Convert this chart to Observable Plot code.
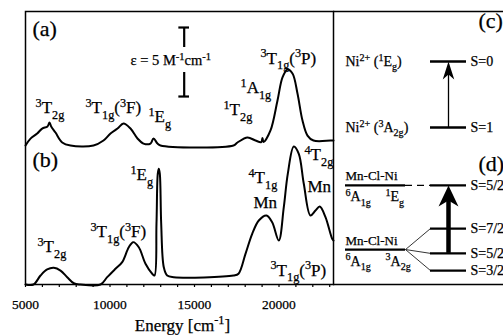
<!DOCTYPE html>
<html><head><meta charset="utf-8">
<script src="https://cdn.jsdelivr.net/npm/d3@7"></script>
<script src="https://cdn.jsdelivr.net/npm/@observablehq/plot@0.6"></script>
<style>
body{margin:0;background:#fff;}
#fig{position:relative;width:503px;height:335px;overflow:hidden;background:#fff;}
#fig svg{position:absolute;top:0;}
#fig svg text{font-family:"Liberation Serif","Times New Roman",serif !important;stroke:#000;stroke-width:0.25px;}
</style></head><body><div id="fig"></div>
<script>
// ---------- DATA ----------
// trace (a): epsilon (M^-1 cm^-1) vs energy (cm^-1)
const energyA = [5000, 5296, 5692, 5988, 6300, 6420, 6520, 6775, 7172, 7663, 9024, 9615, 10030, 10444, 10799, 11213, 11627, 11982, 12396, 12574, 12810, 12988, 17307, 17544, 18136, 18609, 18950, 19023, 19083, 19497, 19911, 20207, 20503, 20799, 21094, 21390, 21686, 22041, 23047, 23225];
const epsA = [0, 0.5, 0.87, 1.23, 1.38, 1.67, 1.38, 0.94, 0.22, 0, 0, 0.36, 0.87, 1.23, 1.59, 1.23, 0.51, 0.14, 0.14, 0.51, 0.14, 0, 0, 0.22, 0.58, 0.36, 0.25, 0.55, 0.25, 1.09, 3.26, 4.93, 5.51, 5.22, 3.77, 1.81, 0.72, 0.36, 0.36, 0.36];
const offsetA = 10.07;
// trace (b)
const energyB = [5000, 5473, 5888, 6284, 6675, 7071, 7467, 7858, 8254, 9438, 9834, 10325, 10722, 11112, 11373, 11704, 12100, 12497, 12633, 12751, 12828, 12887, 12947, 13029, 13183, 13384, 13775, 17307, 17603, 18017, 18414, 18805, 19260, 19597, 19988, 20284, 20520, 20875, 21171, 21467, 21863, 22159, 22413, 22751, 23147, 23225];
const absB = [0, 0, 0.65, 1.09, 1.21, 1.01, 0.53, 0.09, 0, 0, 0.53, 1.14, 1.62, 2.70, 3.07, 2.70, 1.50, 0.78, 0.65, 4.42, 8.04, 8.38, 8.04, 4.42, 1.25, 0.65, 0.53, 0.65, 0.78, 2.22, 3.67, 4.64, 5.0, 4.51, 3.19, 5.60, 8.02, 10.0, 9.47, 7.30, 5.0, 5.36, 5.65, 4.88, 3.31, 3.19];

const xTicks = d3.range(5000, 23001, 1000);
const xTickLabels = [5000, 10000, 15000, 20000];
const xLabel = "Energy [cm^{-1}]";

const annotA = [
  {label: "^3T_{2g}", energy: 5592, height: 12.39},
  {label: "^3T_{1g}(^3F)", energy: 8550, height: 12.39},
  {label: "^1E_g", energy: 12278, height: 11.74},
  {label: "^1T_{2g}", energy: 16716, height: 12.25},
  {label: "^1A_{1g}", energy: 17722, height: 13.84},
  {label: "^3T_{1g}(^3P)", energy: 18905, height: 16.01}
];
const annotB = [
  {label: "^3T_{2g}", energy: 5710, height: 2.32},
  {label: "^3T_{1g}(^3F)", energy: 8846, height: 3.41},
  {label: "^1E_g", energy: 11213, height: 7.54},
  {label: "^4T_{1g}", energy: 18195, height: 7.32},
  {label: "Mn", energy: 18491, height: 5.51},
  {label: "^4T_{2g}", energy: 21509, height: 8.99},
  {label: "Mn", energy: 21686, height: 6.67},
  {label: "^3T_{1g}(^3P)", energy: 19497, height: 0.65}
];
const panelTags = [
  {label: "(a)", energy: 5414, height: 18.04},
  {label: "(b)", energy: 5414, height: 8.48}
];
const scaleBar = {energy: 14390, bottom: 13.62, length: 5, label: "ε = 5 M^{-1}cm^{-1}", labelEnergy: 11213, labelHeight: 15.87};

// energy-level diagrams (arbitrary energy units)
const levelsC = [
  {state: "Ni^{2+} (^1E_g)", spin: "S=0", energy: 81.7},
  {state: "Ni^{2+} (^3A_{2g})", spin: "S=1", energy: 57.5}
];
const dExcited = {name: "Mn-Cl-Ni", term1: "^6A_{1g}", term2: "^1E_g", spin: "S=5/2", energy: 36.3};
const dGround = {name: "Mn-Cl-Ni", term1: "^6A_{1g}", term2: "^3A_{2g}", energy: 12.8};
const dSplit = [
  {spin: "S=7/2", energy: 20.5},
  {spin: "S=5/2", energy: 11.4},
  {spin: "S=3/2", energy: 5.1}
];
const diagramTags = [{label: "(c)", energy: 94.1}, {label: "(d)", energy: 41.5}];

// ---------- helpers ----------
const serif = "'Liberation Serif', 'Times New Roman', serif";
function richify(svg) {
  svg.querySelectorAll("text").forEach(t => {
    const s = t.textContent;
    if (!/[\^_]/.test(s)) return;
    const fs = parseFloat(getComputedStyle(t).fontSize);
    while (t.firstChild) t.removeChild(t.firstChild);
    const re = /([\^_])(\{[^}]*\}|.)|([^\^_]+)/g;
    let m, cur = 0;
    while ((m = re.exec(s))) {
      const ts = document.createElementNS("http://www.w3.org/2000/svg", "tspan");
      let txt, target, size = null;
      if (m[3] !== undefined) { txt = m[3]; target = 0; }
      else {
        txt = m[2].startsWith("{") ? m[2].slice(1, -1) : m[2];
        target = m[1] === "^" ? -0.38 * fs : 0.3 * fs;
        size = 0.72 * fs;
      }
      const dy = target - cur; cur = target;
      if (dy) ts.setAttribute("dy", dy.toFixed(2));
      if (size) ts.setAttribute("font-size", size.toFixed(2));
      ts.textContent = txt;
      t.appendChild(ts);
    }
  });
}
function arrowHead(wRatio, notch) {
  return {draw(ctx, size) {
    const r = Math.sqrt(size / Math.PI);
    ctx.moveTo(0, 0);
    ctx.lineTo(r * wRatio / 2, r);
    ctx.lineTo(0, r * notch);
    ctx.lineTo(-r * wRatio / 2, r);
    ctx.closePath();
  }};
}

const traceA = energyA.map((e, i) => ({energy: e, value: epsA[i] + offsetA}));
const traceB = energyB.map((e, i) => ({energy: e, value: absB[i]}));
const sb = scaleBar;

// ---------- spectra panel ----------
const left = Plot.plot({
  width: 503, height: 335,
  marginLeft: 25, marginRight: 170, marginTop: 11, marginBottom: 51,
  x: {domain: [5000, 23225]},
  y: {domain: [0, 19.78], axis: null},
  style: {fontFamily: serif, fontSize: "13px", color: "black", background: "none", overflow: "visible"},
  marks: [
    Plot.line(traceA, {x: "energy", y: "value", curve: "catmull-rom", stroke: "black", strokeWidth: 2}),
    Plot.line(traceB, {x: "energy", y: "value", curve: "catmull-rom", stroke: "black", strokeWidth: 2}),
    Plot.frame({stroke: "black", strokeWidth: 1.5}),
    Plot.axisX({ticks: xTicks, tickFormat: () => "", tickSize: 3, label: null, strokeWidth: 1.2}),
    Plot.text(xTickLabels, {x: d => d, frameAnchor: "bottom", dy: 24, lineAnchor: "bottom", fontSize: 13.5, text: d => String(d)}),
    Plot.text([xLabel], {frameAnchor: "bottom", dy: 46, dx: 3, lineAnchor: "bottom", fontSize: 17, text: d => d}),
    Plot.text(annotA, {x: "energy", y: "height", text: "label", textAnchor: "start", lineAnchor: "bottom", fontSize: 17}),
    Plot.text(annotB, {x: "energy", y: "height", text: "label", textAnchor: "start", lineAnchor: "bottom", fontSize: 17}),
    Plot.text(panelTags, {x: "energy", y: "height", text: "label", textAnchor: "start", lineAnchor: "bottom", fontSize: 22}),
    // scale bar
    Plot.ruleX([sb], {x: "energy", y1: d => d.bottom + d.length - 1.45, y2: d => d.bottom + d.length, strokeWidth: 2.2}),
    Plot.ruleX([sb], {x: "energy", y1: d => d.bottom, y2: d => d.bottom + 1.74, strokeWidth: 2.2}),
    Plot.ruleY([sb.bottom, sb.bottom + sb.length], {y: d => d, x1: sb.energy - 316, x2: sb.energy + 316, strokeWidth: 2.2}),
    Plot.text([sb], {x: "labelEnergy", y: "labelHeight", text: "label", textAnchor: "start", lineAnchor: "bottom", fontSize: 14.5})
  ]
});

// ---------- energy-level panel ----------
const col = {label: 12, lineEnd: 72, term2: 52, lev1: 97, lev2: 133, spin: 137, arrow: 115, tag: 145};
const right = Plot.plot({
  width: 170, height: 335,
  marginLeft: 0, marginRight: 0, marginTop: 11, marginBottom: 51,
  x: {domain: [0, 170], axis: null},
  y: {domain: [0, 100], axis: null},
  style: {fontFamily: serif, fontSize: "14px", color: "black", background: "none", overflow: "visible"},
  marks: [
    Plot.ruleY([0, 100], {stroke: "black", strokeWidth: 1.5}),
    // (c)
    Plot.ruleY(levelsC, {y: "energy", x1: col.lev1, x2: col.lev2, strokeWidth: 2.5}),
    Plot.text(levelsC, {x: col.label, y: "energy", text: "state", textAnchor: "start", fontSize: 14}),
    Plot.text(levelsC, {x: col.spin, y: "energy", text: "spin", textAnchor: "start", fontSize: 14}),
    Plot.ruleX([levelsC], {x: col.arrow, y1: d => d[1].energy, y2: d => d[0].energy - 3, strokeWidth: 1.3}),
    Plot.dot([levelsC[0]], {x: col.arrow, y: "energy", symbol: arrowHead(0.64, 0.72), r: 18, fill: "black", stroke: "none"}),
    // (d)
    Plot.ruleY([dExcited, dGround], {y: "energy", x1: col.label, x2: col.lineEnd, strokeWidth: 2.2}),
    Plot.ruleY([dExcited], {y: "energy", x1: col.lineEnd, x2: col.lev1, strokeWidth: 1.2, strokeDasharray: "7,5"}),
    Plot.ruleY([dExcited, ...dSplit], {y: "energy", x1: col.lev1, x2: col.lev2, strokeWidth: 2.3}),
    Plot.link(dSplit, {x1: col.lineEnd, y1: dGround.energy, x2: col.lev1, y2: "energy", strokeWidth: 0.8}),
    Plot.text([dExcited, ...dSplit], {x: col.spin, y: "energy", text: "spin", textAnchor: "start", fontSize: 14}),
    Plot.text([dExcited, dGround], {x: col.label, y: "energy", text: "name", textAnchor: "start", lineAnchor: "bottom", dy: -5, fontSize: 13}),
    Plot.text([dExcited, dGround], {x: col.label, y: "energy", text: "term1", textAnchor: "start", lineAnchor: "bottom", dy: 16, fontSize: 14}),
    Plot.text([dExcited, dGround], {x: col.term2, y: "energy", text: "term2", textAnchor: "start", lineAnchor: "bottom", dy: 16, fontSize: 14}),
    Plot.ruleX([dExcited], {x: col.arrow, y1: dSplit[1].energy, y2: d => d.energy - 3, strokeWidth: 4.5}),
    Plot.dot([dExcited], {x: col.arrow, y: "energy", symbol: arrowHead(0.95, 0.72), r: 21, fill: "black", stroke: "none"}),
    Plot.text(diagramTags, {x: col.tag, y: "energy", text: "label", textAnchor: "start", lineAnchor: "bottom", fontSize: 22})
  ]
});

const fig = document.getElementById("fig");
left.style.left = "0px";
right.style.left = "333px";
fig.appendChild(left);
fig.appendChild(right);
richify(left);
richify(right);
</script>
</body></html>
